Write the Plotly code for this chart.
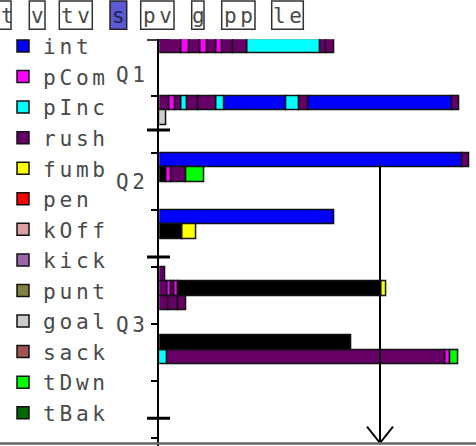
import plotly.graph_objects as go

# ---------------- data ----------------
categories = ["int", "pCom", "pInc", "rush", "fumb", "pen", "kOff",
              "kick", "punt", "goal", "sack", "tDwn", "tBak"]
cat_colors = ["#0000ff", "#ff00ff", "#00ffff", "#660066", "#ffff00", "#ff0000",
              "#dda0a0", "#9966aa", "#808040", "#cccccc", "#a05555", "#00ff00",
              "#006600"]
other_name = "other"
other_color = "#000000"

# row start (time slot) of every drive line, and its plays (type, length)
row_positions = [0, 4, 5, 8, 9, 12, 13, 16, 17, 18, 20.8, 21.8]
row_plays = [
    [("rush", 22.4), ("pCom", 7.6), ("rush", 10.7), ("pCom", 7.3), ("rush", 8.7),
     ("pCom", 6.3), ("rush", 11.0), ("rush", 14.0), ("pInc", 72.7), ("rush", 6.0),
     ("rush", 8.3)],
    [("rush", 10.0), ("pCom", 5.7), ("rush", 6.7), ("pInc", 6.0), ("rush", 10.6),
     ("rush", 18.4), ("pInc", 7.3), ("int", 62.0), ("pInc", 13.3), ("rush", 9.0),
     ("int", 144.4), ("rush", 6.6)],
    [("goal", 7.4)],
    [("int", 303.0), ("rush", 6.7)],
    [("other", 6.7), ("pCom", 5.7), ("rush", 14.3), ("tDwn", 18.0)],
    [("int", 175.0)],
    [("other", 23.4), ("fumb", 13.3)],
    [("rush", 6.0)],
    [("rush", 8.0), ("pCom", 4.4), ("rush", 2.3), ("pCom", 4.3), ("other", 203.4),
     ("fumb", 4.3)],
    [("rush", 9.0), ("rush", 10.0), ("rush", 8.0)],
    [("other", 192.4)],
    [("pInc", 8.0), ("rush", 277.7), ("pCom", 5.0), ("tDwn", 8.7)],
]

quarter_labels = ["Q1", "Q2", "Q3"]
quarter_label_pos = [2.5, 10.0, 20.05]
quarter_bounds = [0, 6.37, 15.27, 26.6]
minor_ticks = [4, 8, 12, 16, 20, 24, 28]

marker_value = 220.7
marker_from = 8.75
marker_to = 28.33

buttons = ["t", "v", "tv", "s", "pv", "g", "pp", "le"]
active_button = "s"

# ---------------- layout constants ----------------
W, H = 476, 446
PLOT_LEFT = 159.3
PLOT_TOP = 39.3
ROW_PX = 14.25
X_MAX = W - PLOT_LEFT
Y_MAX = (H - PLOT_TOP) / ROW_PX
FONT = "DejaVu Sans Mono"
TXT = "#4a4a4a"
SP = 3.7  # letter spacing px

# button box edges (left, right), in px
button_boxes = [(-6, 11.0), (29.3, 45), (59.3, 92.3), (110, 126.7), (140.7, 174),
                (191.7, 204), (221.7, 255), (271.7, 303.3)]
BTN_TOP, BTN_BOTTOM = 1.0, 29.3


def spaced(s, sp=SP):
    return '<span style="letter-spacing:%spx">%s</span>' % (sp, s)


# ---------------- build traces ----------------
per_cat = {c: {"x": [], "y": [], "base": []} for c in categories + [other_name]}
for pos, plays in zip(row_positions, row_plays):
    start = 0.0
    for kind, length in plays:
        d = per_cat[kind]
        d["x"].append(length)
        d["y"].append(pos + 0.5)
        d["base"].append(start)
        start += length

fig = go.Figure()
for c, col in zip(categories, cat_colors):
    d = per_cat[c]
    xs, ys, bs = (d["x"], d["y"], d["base"]) if d["x"] else ([None], [None], [None])
    fig.add_trace(go.Bar(
        orientation="h", x=xs, y=ys, base=bs, width=1,
        name=spaced(c), marker=dict(color=col, line=dict(color="#111111", width=1.5)),
        hoverinfo="skip"))
d = per_cat[other_name]
fig.add_trace(go.Bar(
    orientation="h", x=d["x"], y=d["y"], base=d["base"], width=1,
    name=other_name, showlegend=False,
    marker=dict(color=other_color, line=dict(color="#111111", width=1.5)),
    hoverinfo="skip"))

shapes = []
# quarter boundary ticks crossing the axis
for b in quarter_bounds:
    shapes.append(dict(type="line", xref="paper", yref="y",
                       x0=147 / W, x1=170 / W, y0=b, y1=b,
                       line=dict(color="#000000", width=3), layer="below"))
# marker arrow
shapes.append(dict(type="line", xref="x", yref="y", x0=marker_value, x1=marker_value,
                   y0=marker_from, y1=marker_to, line=dict(color="#000000", width=2)))
shapes.append(dict(type="path", xref="x", yref="y", xsizemode="pixel", ysizemode="pixel",
                   xanchor=marker_value, yanchor=marker_to,
                   path="M-13,16.3 L0,0 L13,16.3",
                   line=dict(color="#000000", width=2)))
# bottom frame line
shapes.append(dict(type="line", xref="paper", yref="paper", x0=0, x1=1,
                   y0=2.5 / H, y1=2.5 / H, line=dict(color="#666666", width=2.5)))

annotations = []
for lab, pos in zip(quarter_labels, quarter_label_pos):
    annotations.append(dict(text=spaced(lab), xref="paper", yref="y", x=150 / W, y=pos,
                            xanchor="right", yanchor="middle", showarrow=False,
                            borderpad=0, font=dict(family=FONT, size=21, color=TXT)))
for lab, (l, r) in zip(buttons, button_boxes):
    active = lab == active_button
    shapes.append(dict(type="rect", xref="paper", yref="paper",
                       x0=l / W, x1=r / W, y0=1 - BTN_BOTTOM / H, y1=1 - BTN_TOP / H,
                       fillcolor="#5a5ad6" if active else "#ffffff",
                       line=dict(color="#222222" if active else "#333333", width=1.5)))
    if l < 0:
        # partly off-screen box: keep its text fully inside the picture
        txt, cx = lab, 7.0
    else:
        txt, cx = spaced(lab), (l + r) / 2 + SP / 2
    annotations.append(dict(
        text=txt, xref="paper", yref="paper", x=cx / W,
        y=1 - 16.3 / H, xanchor="center", yanchor="middle", showarrow=False,
        borderpad=0,
        font=dict(family=FONT, size=21, color="#22224a" if active else TXT)))

fig.update_layout(
    width=W, height=H, margin=dict(l=0, r=0, t=0, b=0),
    paper_bgcolor="#ffffff", plot_bgcolor="#ffffff",
    barmode="overlay", bargap=0,
    showlegend=True,
    legend=dict(x=3 / W, y=1 - 25.7 / H, xanchor="left", yanchor="top",
                bgcolor="rgba(0,0,0,0)", borderwidth=0, tracegroupgap=0,
                traceorder="normal",
                font=dict(family=FONT, size=21.2, color=TXT)),
    xaxis=dict(domain=[PLOT_LEFT / W, 1], range=[0, X_MAX], visible=False,
               fixedrange=True),
    yaxis=dict(domain=[0, 1 - PLOT_TOP / H], range=[Y_MAX, 0], showline=True,
               linecolor="#000000", linewidth=2, showgrid=False, zeroline=False,
               tickmode="array", tickvals=minor_ticks, ticks="outside", ticklen=6,
               tickwidth=1.5, tickcolor="#000000", showticklabels=False,
               fixedrange=True),
    shapes=shapes, annotations=annotations,
)

fig.write_html("out.html", config={"displayModeBar": False})
